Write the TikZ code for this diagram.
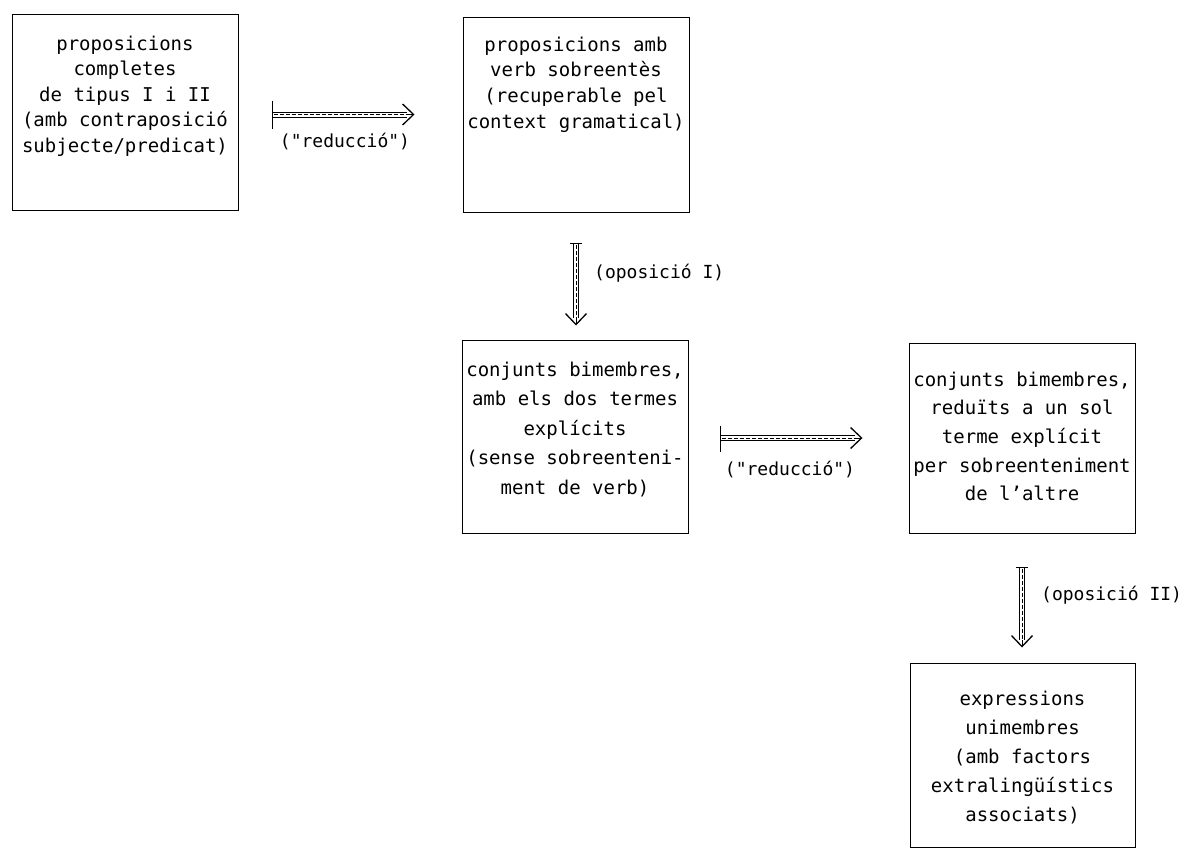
\documentclass[tikz,border=0pt]{standalone}
\usepackage{fontspec}
\setmonofont{DejaVu Sans Mono}
\usetikzlibrary{arrows.meta}
\newcommand{\boxtext}[5]{\parbox[c][#2pt][t]{#1pt}{\centering\ttfamily\fontsize{19}{#4}\selectfont\rule{0pt}{#3pt}#5}}
\tikzset{
  box/.style={draw, line width=1pt, inner sep=0pt},
  lbl/.style={font=\ttfamily\fontsize{18}{20}\selectfont, inner sep=0pt},
  tipline/.style={line width=1pt, -{Straight Barb[length=11pt,width=21pt,line width=1.3pt]}},
  shaft/.style={double, line width=1pt, double distance=4pt},
  midline/.style={line width=0.8pt, dash pattern=on 4pt off 2pt},
  barline/.style={line width=1.3pt},
}
\begin{document}
\begin{tikzpicture}[x=1pt,y=-1pt]
\useasboundingbox (0,0) rectangle (1186,851);
\fill[white] (0,0) rectangle (1186,851);

\node[box] (b1) at (125,112.5) {\boxtext{226}{195}{35}{25.5}{proposicions\\completes\\de tipus I i II\\(amb contraposició\\subjecte/predicat)}};
\node[box] (b2) at (576,115) {\boxtext{226}{194}{33}{25.7}{proposicions amb\\verb sobreentès\\(recuperable pel\\context gramatical)}};
\node[box] (b3) at (575,436.5) {\boxtext{226}{193}{36}{29.5}{conjunts bimembres,\\amb els dos termes\\explícits\\(sense sobreenteni-\\ment de verb)}};
\node[box] (b4) at (1022,438) {\boxtext{226}{190}{43}{28.7}{conjunts bimembres,\\reduïts a un sol\\terme explícit\\per sobreenteniment\\de l’altre}};
\node[box] (b5) at (1022.5,755) {\boxtext{225}{184}{42}{29}{expressions\\unimembres\\(amb factors\\extralingüístics\\associats)}};

% arrow 1
\draw[tipline, shorten <=34pt, shorten >=48pt] ([yshift=-2pt]b1.east) -- ([yshift=-2pt]b1.east -| b2.west);
\draw[shaft, shorten <=34pt, shorten >=56pt] ([yshift=-2pt]b1.east) -- ([yshift=-2pt]b1.east -| b2.west);
\draw[midline, shorten <=35pt, shorten >=56pt] ([yshift=-2pt]b1.east) -- ([yshift=-2pt]b1.east -| b2.west);
\draw[barline] ([xshift=34pt,yshift=12pt]b1.east) -- ([xshift=34pt,yshift=-16pt]b1.east);
\node[lbl] (l1) at (345,141) {("reducció")};

% arrow 2
\draw[tipline, shorten <=31pt, shorten >=14pt] (b2.south) -- (b2.south |- b3.north);
\draw[shaft, shorten <=31pt, shorten >=22pt] (b2.south) -- (b2.south |- b3.north);
\draw[midline, shorten <=32pt, shorten >=22pt] (b2.south) -- (b2.south |- b3.north);
\draw[barline] ([xshift=-6pt,yshift=-31pt]b2.south) -- ([xshift=6pt,yshift=-31pt]b2.south);
\node[lbl, anchor=west] (l2) at (594,273) {(oposició I)};

% arrow 3
\draw[tipline, shorten <=32pt, shorten >=46pt] ([yshift=-1.5pt]b3.east) -- ([yshift=-1.5pt]b3.east -| b4.west);
\draw[shaft, shorten <=32pt, shorten >=54pt] ([yshift=-1.5pt]b3.east) -- ([yshift=-1.5pt]b3.east -| b4.west);
\draw[midline, shorten <=33pt, shorten >=54pt] ([yshift=-1.5pt]b3.east) -- ([yshift=-1.5pt]b3.east -| b4.west);
\draw[barline] ([xshift=32pt,yshift=11pt]b3.east) -- ([xshift=32pt,yshift=-15pt]b3.east);
\node[lbl] (l3) at (790,469) {("reducció")};

% arrow 4
\draw[tipline, shorten <=34pt, shorten >=15pt] (b4.south) -- (b4.south |- b5.north);
\draw[shaft, shorten <=34pt, shorten >=23pt] (b4.south) -- (b4.south |- b5.north);
\draw[midline, shorten <=35pt, shorten >=23pt] (b4.south) -- (b4.south |- b5.north);
\draw[barline] ([xshift=-6pt,yshift=-34pt]b4.south) -- ([xshift=6pt,yshift=-34pt]b4.south);
\node[lbl, anchor=west] (l4) at (1041,595) {(oposició II)};
\end{tikzpicture}
\end{document}
